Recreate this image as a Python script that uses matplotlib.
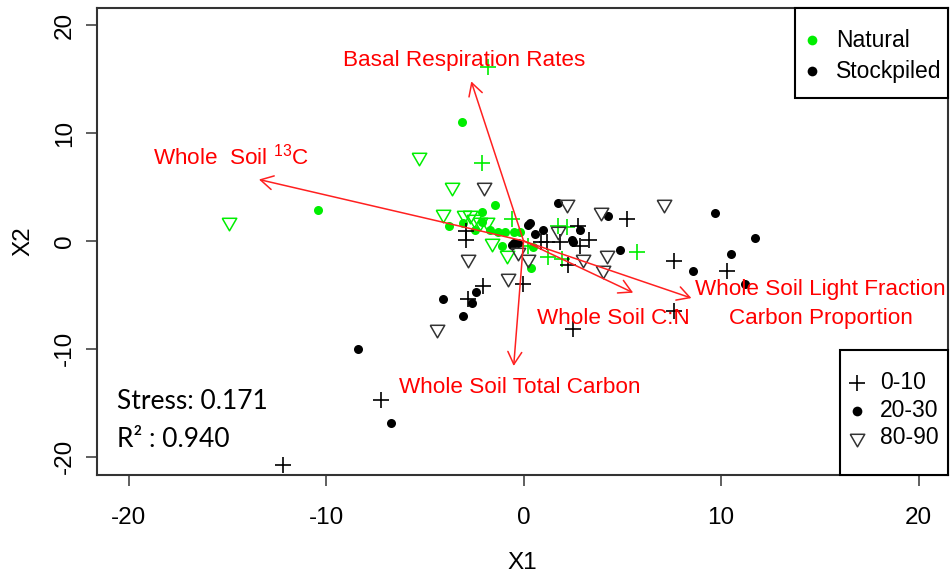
import matplotlib
matplotlib.use("Agg")
import matplotlib.pyplot as plt
from matplotlib.patches import Rectangle

plt.rcParams["font.family"] = ["Liberation Sans", "DejaVu Sans"]
plt.rcParams["mathtext.fontset"] = "custom"
plt.rcParams["mathtext.rm"] = "Liberation Sans"
plt.rcParams["axes.unicode_minus"] = False

# ---- NMDS site scores by group ----
natural_0_10 = [(-1.8, 16.1), (-2.1, 7.2), (-0.6, 2.0), (1.75, 1.4), (2.2, 1.3),
                (1.25, -1.5), (1.95, -1.7), (5.75, -1.0), (0.2, -0.5)]
natural_20_30 = [(-3.1, 11.0), (-10.4, 2.9), (-3.8, 1.4), (-1.45, 3.3), (-2.1, 2.7),
                 (-3.05, 1.7), (-2.45, 1.05), (-1.7, 1.05), (-1.3, 0.8), (-0.95, 0.8),
                 (-0.5, 0.8), (-0.2, 0.8), (-1.1, -0.5), (0.4, -2.5), (0.5, -0.6),
                 (-2.1, 1.8)]
natural_80_90 = [(-14.9, 1.8), (-5.3, 7.8), (-3.6, 5.0), (-4.1, 2.5), (-1.6, -0.2),
                 (-0.85, -1.3), (-3.0, 2.4), (-2.7, 2.4), (-2.2, 1.8), (-1.85, 1.8),
                 (-2.5, 2.0)]
stock_0_10 = [(-12.2, -20.8), (-7.2, -14.8), (-2.05, -4.2), (-2.8, -5.4), (-0.05, -4.0),
              (-2.9, 0.9), (-2.9, 0.1), (5.25, 2.0), (7.6, -1.9), (3.3, 0.1),
              (2.75, 1.35), (2.85, -0.5), (1.85, -0.1), (1.2, -0.1), (2.25, -2.2),
              (10.3, -2.8), (7.6, -6.5), (2.5, -8.2), (0.9, -0.1)]
stock_20_30 = [(-8.4, -10.0), (-6.7, -16.9), (-4.1, -5.4), (-3.05, -7.0), (-2.6, -5.8),
               (-2.4, -4.7), (9.7, 2.6), (11.7, 0.3), (10.5, -1.2), (8.6, -2.8),
               (11.2, -4.0), (4.3, 2.3), (4.9, -0.8), (1.75, 3.5), (0.33, 1.7),
               (0.6, 0.6), (1.0, 1.05), (2.85, 1.05), (2.45, 0.1), (2.5, -0.1),
               (-0.5, -0.2), (-0.3, -0.2), (-0.6, -0.35), (0.2, 1.5)]
stock_80_90 = [(-2.0, 5.0), (3.9, 2.7), (7.1, 3.4), (2.2, 3.4), (-2.8, -1.7),
               (-0.8, -3.4), (3.0, -1.7), (4.2, -1.3), (4.0, -2.7), (1.75, 0.9),
               (0.2, -1.7), (-0.3, -1.0), (-4.4, -8.2)]

# ---- fitted environmental vectors ----
vector_names = ["Basal Respiration Rates", "Whole  Soil $^{13}$C", "Whole Soil C:N",
                "Whole Soil Light Fraction\nCarbon Proportion", "Whole Soil Total Carbon"]
vector_x = [-2.65, -13.4, 5.55, 8.5, -0.5]
vector_y = [14.8, 5.7, -4.8, -5.3, -11.6]

stress = 0.171
r_squared = 0.940

site_labels = ["Natural", "Stockpiled"]
depth_labels = ["0-10", "20-30", "80-90"]

# ---- layout ----
label_xy = [(-3.0, 16.75), (-14.8, 7.8), (4.55, -7.15), (15.05, -5.85), (-0.2, -13.6)]
GREEN = "#00EE00"
TRI_GREY = "#333333"
tri = [(-1, 0.58), (1, 0.58), (0, -1.15), (-1, 0.58)]
STYLE = {
    "plus": dict(marker="+", ms=11, mew=1.2),
    "dot": dict(marker="o", ms=6.5, mew=0),
    "tri": dict(marker=tri, ms=12, mew=1.1, mfc="none"),
}

fig = plt.figure(figsize=(9.51, 5.77), dpi=100)
ax = fig.add_axes([0.102, 0.177, 0.895, 0.809])


def draw(points, color, kind, **kw):
    xs = [p[0] for p in points]
    ys = [p[1] for p in points]
    st = dict(STYLE[kind])
    if kind == "tri":
        st["mec"] = color
    else:
        st["color"] = color
    ax.plot(xs, ys, ls="none", zorder=3, **st, **kw)


draw(natural_0_10, GREEN, "plus")
draw(natural_20_30, GREEN, "dot")
draw(natural_80_90, GREEN, "tri")
draw(stock_0_10, "black", "plus")
draw(stock_20_30, "black", "dot")
draw(stock_80_90, TRI_GREY, "tri")

for vx, vy, name, (tx, ty) in zip(vector_x, vector_y, vector_names, label_xy):
    ax.annotate("", xy=(vx, vy), xytext=(0, 0),
                arrowprops=dict(arrowstyle="->,head_length=0.9,head_width=0.5",
                                color="#FF2020", lw=1.1, shrinkA=0, shrinkB=0,
                                mutation_scale=10), zorder=4)
    ax.text(tx, ty, name, color="#FF0000", fontsize=16.2, ha="center", va="center",
            linespacing=1.5, zorder=5)

ax.text(-20.6, -14.9, f"Stress: {stress:.3f}", family=["Lato", "DejaVu Sans"],
        fontsize=19, ha="left", va="center")
ax.text(-20.6, -18.4, f"R\u00b2 : {r_squared:.3f}", family=["Lato", "DejaVu Sans"],
        fontsize=19, ha="left", va="center")

ax.set_xlim(-21.6, 21.5)
ax.set_ylim(-21.7, 21.6)
ax.set_xticks([-20, -10, 0, 10, 20])
ax.set_yticks([-20, -10, 0, 10, 20])
ax.tick_params(direction="out", length=8, width=1.2, color="#444444",
               labelsize=17.5)
ax.tick_params(axis="x", pad=15)
ax.tick_params(axis="y", pad=7)
for lab in ax.get_yticklabels():
    lab.set_rotation(90)
    lab.set_va("center")
for sp in ax.spines.values():
    sp.set_color("#333333")
    sp.set_linewidth(1.5)

ax.set_xlabel("X1", fontsize=17.5, labelpad=17)
ax.set_ylabel("X2", fontsize=17.5, labelpad=14)


# ---- legend boxes (axes-fraction placement) ----
def legend_box(x0, y0, x1, y1, rows, sym_x, text_x):
    ax.add_patch(Rectangle((x0, y0), x1 - x0, y1 - y0, transform=ax.transAxes,
                           facecolor="white", edgecolor="black", lw=1.5,
                           zorder=6, clip_on=False))
    for (y, label, kind, color) in rows:
        st = dict(STYLE[kind])
        if kind == "tri":
            st["mec"] = color
        else:
            st["color"] = color
        if kind == "dot":
            st["ms"] = 7
        ax.plot([sym_x], [y], ls="none", transform=ax.transAxes, zorder=7,
                clip_on=False, **st)
        ax.text(text_x, y, label, transform=ax.transAxes, fontsize=16.5,
                ha="left", va="center", zorder=7)


legend_box(0.820, 0.807, 1.0, 1.0,
           [(0.931, site_labels[0], "dot", GREEN),
            (0.865, site_labels[1], "dot", "black")],
           0.840, 0.868)
legend_box(0.873, 0.0, 1.0, 0.268,
           [(0.197, depth_labels[0], "plus", "black"),
            (0.137, depth_labels[1], "dot", "black"),
            (0.079, depth_labels[2], "tri", TRI_GREY)],
           0.893, 0.920)

fig.savefig("out.png", dpi=100)
